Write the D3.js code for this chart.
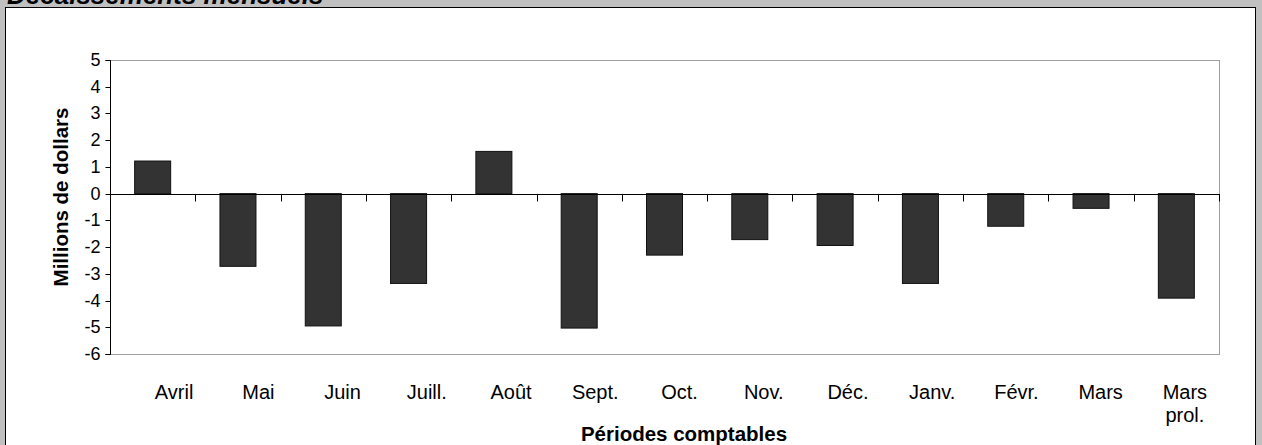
<!DOCTYPE html>
<html><head><meta charset="utf-8">
<script src="https://cdn.jsdelivr.net/npm/d3@7"></script>
<style>html,body{margin:0;padding:0;background:#c0c0c0;overflow:hidden}svg{display:block}</style>
</head><body>
<svg id="c" width="1262" height="445"></svg>
<script>
const title = "Décaissements mensuels";
const categories = ["Avril","Mai","Juin","Juill.","Août","Sept.","Oct.","Nov.","Déc.","Janv.","Févr.","Mars","Mars\nprol."];
const values = [1.22, -2.72, -4.95, -3.36, 1.58, -5.03, -2.30, -1.72, -1.94, -3.36, -1.22, -0.55, -3.91];
const yTicks = [5,4,3,2,1,0,-1,-2,-3,-4,-5,-6];
const yTitle = "Millions de dollars";
const xTitle = "Périodes comptables";

const svg = d3.select("#c");
const font = "Liberation Sans, Arial, sans-serif";
const L = 110, R = 1219, T = 60, B = 354;

svg.append("rect").attr("x",0).attr("y",0).attr("width",1262).attr("height",445).attr("fill","#c0c0c0");
svg.append("text").attr("x",7).attr("y",4).attr("font-family",font).attr("font-size",26)
  .attr("font-weight","bold").attr("font-style","italic").attr("fill","#000").text(title);
svg.append("rect").attr("x",5.5).attr("y",7.5).attr("width",1250).attr("height",460)
  .attr("fill","#fff").attr("stroke","#000").attr("stroke-width",1);

const x = d3.scaleBand().domain(categories).range([L,R]).paddingInner(0.578).paddingOuter(0.289);
const xLab = d3.scaleBand().domain(categories).range([132,1227]);
const y = d3.scaleLinear().domain([-6,5]).range([B,T]);

// plot frame
svg.append("rect").attr("x",L+0.5).attr("y",T+0.5).attr("width",R-L).attr("height",B-T)
  .attr("fill","none").attr("stroke","#a0a0a0").attr("stroke-width",1);

// bars
svg.append("g").selectAll("rect").data(values).join("rect")
  .attr("x",(d,i)=>x(categories[i]))
  .attr("width",x.bandwidth())
  .attr("y",d=>y(Math.max(0,d)))
  .attr("height",d=>Math.abs(y(d)-y(0)))
  .attr("fill","#333333").attr("stroke","#111").attr("stroke-width",1);

// y axis
const ya = svg.append("g").attr("transform",`translate(${L+0.5},0)`)
  .call(d3.axisLeft(y).tickValues(yTicks).tickSize(5).tickPadding(5).tickFormat(d=>String(d)));
ya.select(".domain").attr("stroke","#000").attr("d",`M-5,${T+0.5}H0V${B+0.5}H-5`);
ya.selectAll(".tick line").attr("stroke","#000");
ya.selectAll(".tick text").attr("font-family",font).attr("font-size",18).attr("fill","#000");
ya.selectAll(".tick").attr("transform",d=>`translate(0,${Math.round(y(d))+0.5})`);

// zero line with ticks at band boundaries
const y0 = Math.round(y(0))+0.5;
svg.append("line").attr("x1",L).attr("x2",R+1).attr("y1",y0).attr("y2",y0).attr("stroke","#000");
const step = x.step();
const bounds = d3.range(categories.length+1).map(i=>L + i*step);
svg.append("g").selectAll("line").data(bounds).join("line")
  .attr("x1",d=>Math.round(d)+0.5).attr("x2",d=>Math.round(d)+0.5)
  .attr("y1",y0).attr("y2",y0+7).attr("stroke","#000");

// x labels
const xl = svg.append("g");
categories.forEach((c,i)=>{
  const cx = xLab(c) + xLab.bandwidth()/2;
  const lines = c.split("\n");
  const t = xl.append("text").attr("x",cx).attr("y",399).attr("text-anchor","middle")
    .attr("font-family",font).attr("font-size",20).attr("fill","#000");
  lines.forEach((ln,j)=>t.append("tspan").attr("x",cx).attr("dy",j?23:0).text(ln));
});

// titles
svg.append("text").attr("x",684).attr("y",441).attr("text-anchor","middle")
  .attr("font-family",font).attr("font-size",20.5).attr("font-weight","bold").attr("fill","#000").text(xTitle);
svg.append("text").attr("transform",`translate(68,197) rotate(-90)`).attr("text-anchor","middle")
  .attr("font-family",font).attr("font-size",20.5).attr("font-weight","bold").attr("fill","#000").text(yTitle);
</script>
</body></html>
